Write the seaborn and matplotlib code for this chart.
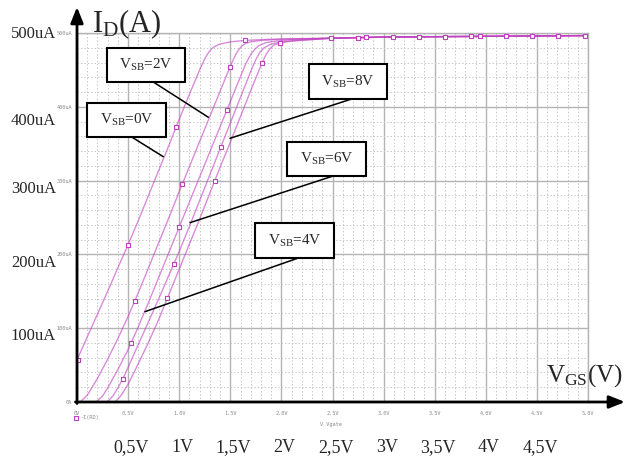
import numpy as np
import pandas as pd
import matplotlib
matplotlib.use("Agg")
import matplotlib.pyplot as plt
import seaborn as sns
from matplotlib.patches import Rectangle
from matplotlib.ticker import MultipleLocator

# ---------------- data ----------------
vsb_values = [0, 2, 4, 6, 8]

vgs_0 = [0.0, 0.1, 0.2, 0.3, 0.4, 0.5, 0.6, 0.7, 0.8, 0.9, 1.0, 1.1, 1.2, 1.25, 1.28, 1.3, 1.32, 1.35, 1.4, 1.5, 1.65, 1.8, 2.0, 2.5, 3.0, 3.5, 4.0, 4.5, 5.0]
id_0 = [57, 88, 119, 150, 182, 213, 246, 280, 314, 348, 383, 417, 450, 465, 472, 476, 479, 482, 485, 488, 490, 491, 492, 493, 494.5, 495, 495.5, 496, 496.5]

vgs_2 = [0.03, 0.1, 0.2, 0.3, 0.4, 0.5, 0.6, 0.7, 0.8, 0.9, 1.0, 1.1, 1.2, 1.3, 1.4, 1.5, 1.55, 1.58, 1.61, 1.65, 1.7, 1.8, 2.0, 2.5, 3.0, 3.5, 4.0, 4.5, 5.0]
id_2 = [0, 9, 32, 58, 86, 116, 148, 182, 216, 250, 285, 319, 353, 387, 421, 455, 470, 477, 482, 486, 488, 490, 491.5, 493, 494.5, 495, 495.5, 496, 496.5]

vgs_4 = [0.186, 0.25, 0.3, 0.4, 0.5, 0.6, 0.7, 0.8, 0.9, 1.0, 1.1, 1.2, 1.3, 1.4, 1.5, 1.6, 1.65, 1.7, 1.74, 1.78, 1.85, 1.95, 2.1, 2.5, 3.0, 3.5, 4.0, 4.5, 5.0]
id_4 = [0, 8, 19, 44, 71, 102, 135, 169, 203, 237, 271, 305, 339, 373, 407, 441, 458, 471, 478, 483, 487, 489, 491, 493, 494.5, 495, 495.5, 496, 496.5]

vgs_6 = [0.294, 0.35, 0.4, 0.45, 0.5, 0.6, 0.7, 0.8, 0.9, 1.0, 1.1, 1.2, 1.3, 1.4, 1.5, 1.6, 1.7, 1.75, 1.79, 1.83, 1.9, 2.0, 2.2, 2.5, 3.0, 3.5, 4.0, 4.5, 5.0]
id_6 = [0, 8, 19, 32, 47, 78, 109, 140, 172, 204, 238, 273, 308, 343, 378, 413, 448, 464, 474, 480, 485, 488, 490.5, 493, 494.5, 495, 495.5, 496, 496.5]

vgs_8 = [0.372, 0.42, 0.46, 0.5, 0.6, 0.7, 0.8, 0.9, 1.0, 1.1, 1.2, 1.3, 1.4, 1.5, 1.6, 1.7, 1.8, 1.85, 1.89, 1.93, 2.0, 2.1, 2.3, 2.5, 3.0, 3.5, 4.0, 4.5, 5.0]
id_8 = [0, 7, 15, 24, 52, 81, 112, 146, 180, 214, 248, 283, 318, 352, 387, 422, 456, 471, 479, 484, 487, 489, 491, 493, 494.5, 495, 495.5, 496, 496.5]

# marker symbols on the traces
mk_v_0 = [0.01, 0.50, 0.97, 1.64, 2.49, 3.35, 4.20]
mk_i_0 = [57, 213, 373, 490, 493, 494.8, 495.7]
mk_v_2 = [0.567, 1.024, 1.50, 2.75, 3.60, 4.45]
mk_i_2 = [137, 295, 454, 493.8, 495.1, 496]
mk_v_4 = [0.528, 1.0, 1.47, 1.99, 2.83, 3.86, 4.71]
mk_i_4 = [80, 237.5, 396, 486, 494, 495.4, 496.2]
mk_v_6 = [0.447, 0.949, 1.41, 3.09, 3.94]
mk_i_6 = [31.6, 187, 346, 494.6, 495.5]
mk_v_8 = [0.884, 1.35, 1.807, 4.97]
mk_i_8 = [140.5, 300, 459, 496.5]

x_ticks = [0, 0.5, 1.0, 1.5, 2.0, 2.5, 3.0, 3.5, 4.0, 4.5, 5.0]
x_tick_labels = ["0V", "0.5V", "1.0V", "1.5V", "2.0V", "2.5V", "3.0V", "3.5V", "4.0V", "4.5V", "5.0V"]
y_ticks = [0, 100, 200, 300, 400, 500]
y_tick_labels = ["0A", "100uA", "200uA", "300uA", "400uA", "500uA"]

big_y_labels = ["500uA", "400uA", "300uA", "200uA", "100uA"]
big_x_values = [0.5, 1, 1.5, 2, 2.5, 3, 3.5, 4, 4.5]
big_x_labels = ["0,5V", "1V", "1,5V", "2V", "2,5V", "3V", "3,5V", "4V", "4,5V"]

box_labels = [r"$\mathrm{V_{SB}}$=0V", r"$\mathrm{V_{SB}}$=2V", r"$\mathrm{V_{SB}}$=4V",
              r"$\mathrm{V_{SB}}$=6V", r"$\mathrm{V_{SB}}$=8V"]

# ---------------- layout (annotation geometry, in data units) ----------------
big_y_label_pos = [498.2, 380.2, 289, 189, 88.8]
boxes = [  # x0, x1, y_bottom, y_top
    (0.098, 0.871, 359.1, 405.1),
    (0.294, 1.057, 433.6, 479.7),
    (1.742, 2.515, 195.1, 242.5),
    (2.055, 2.828, 306.2, 352.3),
    (2.270, 3.033, 410.6, 458.0),
]
leaders = [  # start (on box), end (on curve)
    ((0.535, 359.1), (0.844, 332.4)),
    ((0.747, 433.6), (1.285, 385.8)),
    ((2.165, 195.1), (0.665, 122.4)),
    ((2.505, 306.2), (1.106, 243.0)),
    ((2.688, 410.6), (1.497, 357.3)),
]

# ---------------- build tables ----------------
curves = [(vgs_0, id_0), (vgs_2, id_2), (vgs_4, id_4), (vgs_6, id_6), (vgs_8, id_8)]
marks = [(mk_v_0, mk_i_0), (mk_v_2, mk_i_2), (mk_v_4, mk_i_4), (mk_v_6, mk_i_6), (mk_v_8, mk_i_8)]
df = pd.concat([pd.DataFrame({"V": v, "I": i, "VSB": s}) for (v, i), s in zip(curves, vsb_values)],
               ignore_index=True)
dfm = pd.concat([pd.DataFrame({"V": v, "I": i, "VSB": s}) for (v, i), s in zip(marks, vsb_values)],
                ignore_index=True)

# ---------------- style ----------------
sns.set_style("white")
plt.rcParams["font.family"] = ["Liberation Serif", "DejaVu Serif"]
plt.rcParams["mathtext.fontset"] = "custom"
plt.rcParams["mathtext.rm"] = "Liberation Serif"
plt.rcParams["mathtext.it"] = "Liberation Serif:italic"

W, H = 626, 461
fig = plt.figure(figsize=(W / 100, H / 100), dpi=100)
ax = fig.add_axes([77 / W, 59 / H, 511 / W, 369 / H])

CURVE = "#c040c0"
MARK = "#c040c0"
GREY = "#8a8a8a"

sns.lineplot(data=df, x="V", y="I", units="VSB", estimator=None, color=CURVE,
             lw=1.0, alpha=0.6, sort=False, legend=False, ax=ax, zorder=2)
sns.scatterplot(data=dfm, x="V", y="I", marker="s", s=10, color="white",
                edgecolor=MARK, linewidth=0.8, ax=ax, zorder=3, label="-I(RD)")

ax.set_xlim(0, 5)
ax.set_ylim(0, 500)
ax.set_xlabel("")
ax.set_ylabel("")
ax.set_xticks(x_ticks, labels=x_tick_labels)
ax.set_yticks(y_ticks, labels=y_tick_labels)
ax.xaxis.set_minor_locator(MultipleLocator(0.1))
ax.yaxis.set_minor_locator(MultipleLocator(20))
ax.set_axisbelow(True)
ax.grid(which="major", color="#b4b4b4", lw=1.0, ls="-")
ax.grid(which="minor", color="#c8c8c8", lw=0.7, ls=(0, (1.5, 2)))
ax.tick_params(which="minor", length=0)
ax.tick_params(axis="both", which="major", labelsize=3.8, labelcolor=GREY,
               length=2, color="#aaaaaa", width=0.6)
ax.tick_params(axis="x", pad=4.5)
ax.tick_params(axis="y", pad=1.5)
for lbl in ax.get_xticklabels() + ax.get_yticklabels():
    lbl.set_family("DejaVu Sans Mono")

for side in ["left", "bottom"]:
    ax.spines[side].set_visible(False)
for side in ["top", "right"]:
    ax.spines[side].set_color("#b4b4b4")
    ax.spines[side].set_linewidth(1.0)

# axis arrows
arrow = dict(arrowstyle="-|>,head_length=0.95,head_width=0.38", lw=2.0, color="black",
             mutation_scale=10, shrinkA=0, shrinkB=0)
ax.annotate("", xy=(0, 1.0705), xytext=(0, -0.004), xycoords="axes fraction",
            arrowprops=arrow, annotation_clip=False, zorder=6)
ax.annotate("", xy=(1.0724, 0), xytext=(-0.003, 0), xycoords="axes fraction",
            arrowprops=arrow, annotation_clip=False, zorder=6)

# legend (marker sample)
leg = ax.legend(loc="upper left", bbox_to_anchor=(-0.006, -0.036), frameon=False,
                fontsize=3.8, handlelength=0.6, handletextpad=0.5, borderpad=0,
                borderaxespad=0, labelcolor=GREY, markerscale=1.0)
for t in leg.get_texts():
    t.set_family("DejaVu Sans Mono")

ax.text(2.485, -31, "V Vgate", fontsize=3.8, color=GREY, family="DejaVu Sans Mono",
        ha="center", va="center", clip_on=False)

# big axis titles
ax.text(0.147, 501, r"$\mathrm{I_D}$(A)", fontsize=22, ha="left", va="baseline", clip_on=False)
ax.text(4.589, 27.1, r"$\mathrm{V_{GS}}$(V)", fontsize=18, ha="left", va="baseline", clip_on=False)

# big y labels on the left
ytr = ax.get_yaxis_transform()
for lab, yp in zip(big_y_labels, big_y_label_pos):
    ax.text(-0.041, yp, lab, transform=ytr, fontsize=12, ha="right", va="center", clip_on=False)

# big x labels below
for val, lab in zip(big_x_values, big_x_labels):
    ax.text(val + 0.03, -62.3, lab, fontsize=13, ha="center", va="center", clip_on=False)

# annotation boxes with leader lines
for lab, (x0, x1, yb, yt), (p0, p1) in zip(box_labels, boxes, leaders):
    ax.add_patch(Rectangle((x0, yb), x1 - x0, yt - yb, facecolor="white", edgecolor="black",
                           lw=1.5, zorder=5))
    ax.text((x0 + x1) / 2, (yb + yt) / 2, lab, fontsize=11, ha="center", va="center", zorder=6)
    ax.annotate("", xy=p1, xytext=p0, xycoords="data",
                arrowprops=dict(arrowstyle="-", lw=1.1, color="black", shrinkA=0, shrinkB=0),
                zorder=5)

fig.savefig("out.png", dpi=100)
